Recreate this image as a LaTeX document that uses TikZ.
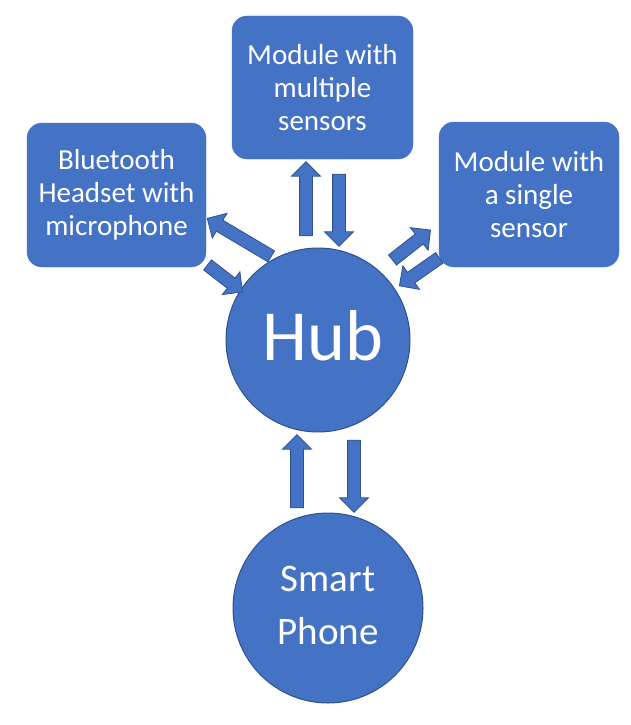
\documentclass[tikz,border=0pt]{standalone}
\usepackage{fontspec}
\setmainfont{Carlito}
\usetikzlibrary{shapes.arrows}
\usetikzlibrary{calc}

\definecolor{hubblue}{HTML}{4472C4}
\definecolor{hubedge}{HTML}{2F528F}

\tikzset{
  unit/.style={rounded corners=15pt, fill=hubblue, draw=hubblue, text=white,
    align=center, inner sep=0pt, font=\fontsize{29}{33}\selectfont},
  ball/.style={circle, fill=hubblue, draw=hubedge, line width=1pt, text=white,
    align=center, inner sep=0pt},
  blockarrow/.style={single arrow, fill=hubblue, draw=hubedge, line width=0.8pt,
    inner sep=6pt, single arrow head extend=8pt, anchor=center}
}

% block arrow from one named point to another
\newcommand{\flow}[2]{%
  \path let \p1 = ($(#2)-(#1)$), \n1 = {atan2(\y1,\x1)}, \n2 = {veclen(\x1,\y1)} in
    node[blockarrow, rotate=\n1, minimum height=\n2] at ($(#1)!0.5!(#2)$) {};}

\begin{document}
\begin{tikzpicture}[x=1pt, y=-1pt]

    \useasboundingbox (0,0) rectangle (630,725);

    \node[ball, minimum size=184pt] (hub) at (318,340) {};
    \node[text=white, font=\fontsize{72}{80}\selectfont] at ($(hub.center)+(5,-4)$) {Hub};
    \node[ball, minimum size=190pt] (phone) at (328,608) {};
    \node[text=white, align=center, font=\fontsize{39}{53}\selectfont] at ($(phone.center)+(0,-3)$) {Smart\\Phone};

    \node[unit, minimum width=179pt, minimum height=144pt] (headset) at (116.5,195) {Bluetooth\\Headset with\\microphone};
    \node[unit, minimum width=181pt, minimum height=143pt] (multi) at (322.5,87.5) {Module with\\multiple\\sensors};
    \node[unit, minimum width=180pt, minimum height=145pt] (single) at (529,194.5) {Module with\\a single\\sensor};

    % arrow ends
    \coordinate (hubM) at (306,239);   \coordinate (multiH) at (306,165);
    \coordinate (multiT) at (339,171); \coordinate (hubMT) at (339,243);
    \coordinate (hubP) at (354,437);   \coordinate (phoneH) at (354,509);
    \coordinate (phoneT) at (297,511); \coordinate (hubPT) at (297,438);
    \coordinate (hubB) at (274,258);   \coordinate (headsetH) at (210,220);
    \coordinate (headsetT) at (205,263); \coordinate (hubBT) at (240,290);
    \coordinate (hubS) at (390,262);   \coordinate (singleH) at (428,232);
    \coordinate (singleT) at (442,256); \coordinate (hubST) at (402,284);

    \flow{hubM}{multiH}
    \flow{multiT}{hubMT}
    \flow{hubP}{phoneH}
    \flow{phoneT}{hubPT}
    \flow{hubB}{headsetH}
    \flow{headsetT}{hubBT}
    \flow{hubS}{singleH}
    \flow{singleT}{hubST}

\end{tikzpicture}
\end{document}
